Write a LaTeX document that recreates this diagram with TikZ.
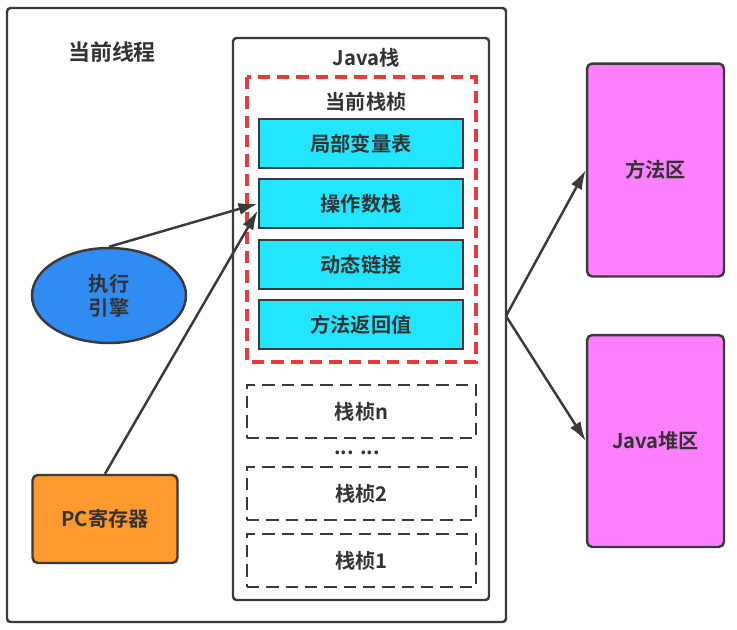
\documentclass[tikz,border=0pt]{standalone}
\usepackage{fontspec}
\setmainfont{Noto Sans CJK SC}[BoldFont={Noto Sans CJK SC Bold}]
\usepackage{tikz}
\usetikzlibrary{arrows.meta,shapes.geometric}

\definecolor{linegray}{HTML}{3A3A3A}
\definecolor{txtgray}{HTML}{333333}
\definecolor{partcyan}{HTML}{22E6FF}
\definecolor{engblue}{HTML}{2F8CF2}
\definecolor{pcorange}{HTML}{FF9A2E}
\definecolor{areapink}{HTML}{FF80FF}
\definecolor{framered}{HTML}{E83A3A}

\tikzset{
	lbl/.style={text=txtgray, font=\fontsize{11.5}{13.5}\selectfont\bfseries},
	panel/.style={draw=linegray, line width=1.4pt, rounded corners=2pt},
	stackpart/.style={lbl, draw=linegray, line width=1.4pt, fill=partcyan, minimum width=4.08cm, minimum height=0.98cm, inner sep=0pt},
	oldframe/.style={lbl, draw=linegray, line width=1.4pt, dash pattern=on 7pt off 4pt, minimum width=4.58cm, minimum height=1.06cm, inner sep=0pt},
	areabox/.style={lbl, draw=linegray, line width=1.4pt, rounded corners=3pt, fill=areapink, minimum width=2.74cm, inner sep=0pt},
	link/.style={draw=linegray, line width=1.4pt, -{Latex[length=11pt,width=7pt]}},
}

\begin{document}
\begin{tikzpicture}[x=0.02cm, y=-0.02cm]
			\useasboundingbox (0,0) rectangle (737,629);
			% thread and java stack
			\draw[panel] (7,8) rectangle (506,622);
			\node[lbl, font=\fontsize{12.5}{14}\selectfont\bfseries] (thread) at (112,52) {当前线程};
			\draw[panel] (233,38) rectangle (489,600);
			\node[lbl] (jstack) at (366,58) {Java栈};
			\draw[draw=framered, line width=2pt, dash pattern=on 7pt off 4pt] (247,77) rectangle (476,362);
			\node[lbl] (curframe) at (366,102) {当前栈桢};
			% parts of the current frame
			\node[stackpart] (locals) at (361,143.5) {局部变量表};
			\node[stackpart] (ops) at (361,203.5) {操作数栈};
			\node[stackpart] (dynlink) at (361,264.5) {动态链接};
			\node[stackpart] (retval) at (361,324.5) {方法返回值};
			% older frames
			\node[oldframe] (framen) at (361.5,411.5) {栈桢n};
			\node[lbl] (dots) at (357,453) {... ...};
			\node[oldframe] (frametwo) at (361.5,493.5) {栈桢2};
			\node[oldframe] (frameone) at (361.5,560.5) {栈桢1};
			% engine and pc
			\node[lbl, ellipse, draw=linegray, line width=1.4pt, fill=engblue, minimum width=3.08cm, minimum height=1.9cm, align=center, inner sep=0pt] (engine) at (109,295.5) {执行\\引擎};
			\node[lbl, draw=linegray, line width=1.4pt, rounded corners=3pt, fill=pcorange, minimum width=2.9cm, minimum height=1.76cm, inner sep=0pt] (pc) at (105,519) {PC寄存器};
			\draw[link] (engine.north) -- (ops.west);
			\draw[link] (pc.north) -- ([yshift=-4pt]ops.west);
			% shared areas
			\node[areabox, minimum height=4.26cm] (method) at (655.5,170) {方法区};
			\node[areabox, minimum height=4.24cm] (heap) at (655.5,441) {Java堆区};
			\coordinate (split) at (506,316);
			\draw[link] (split) -- (method.west);
			\draw[link] (split) -- (heap.west);
		\end{tikzpicture}
\end{document}
